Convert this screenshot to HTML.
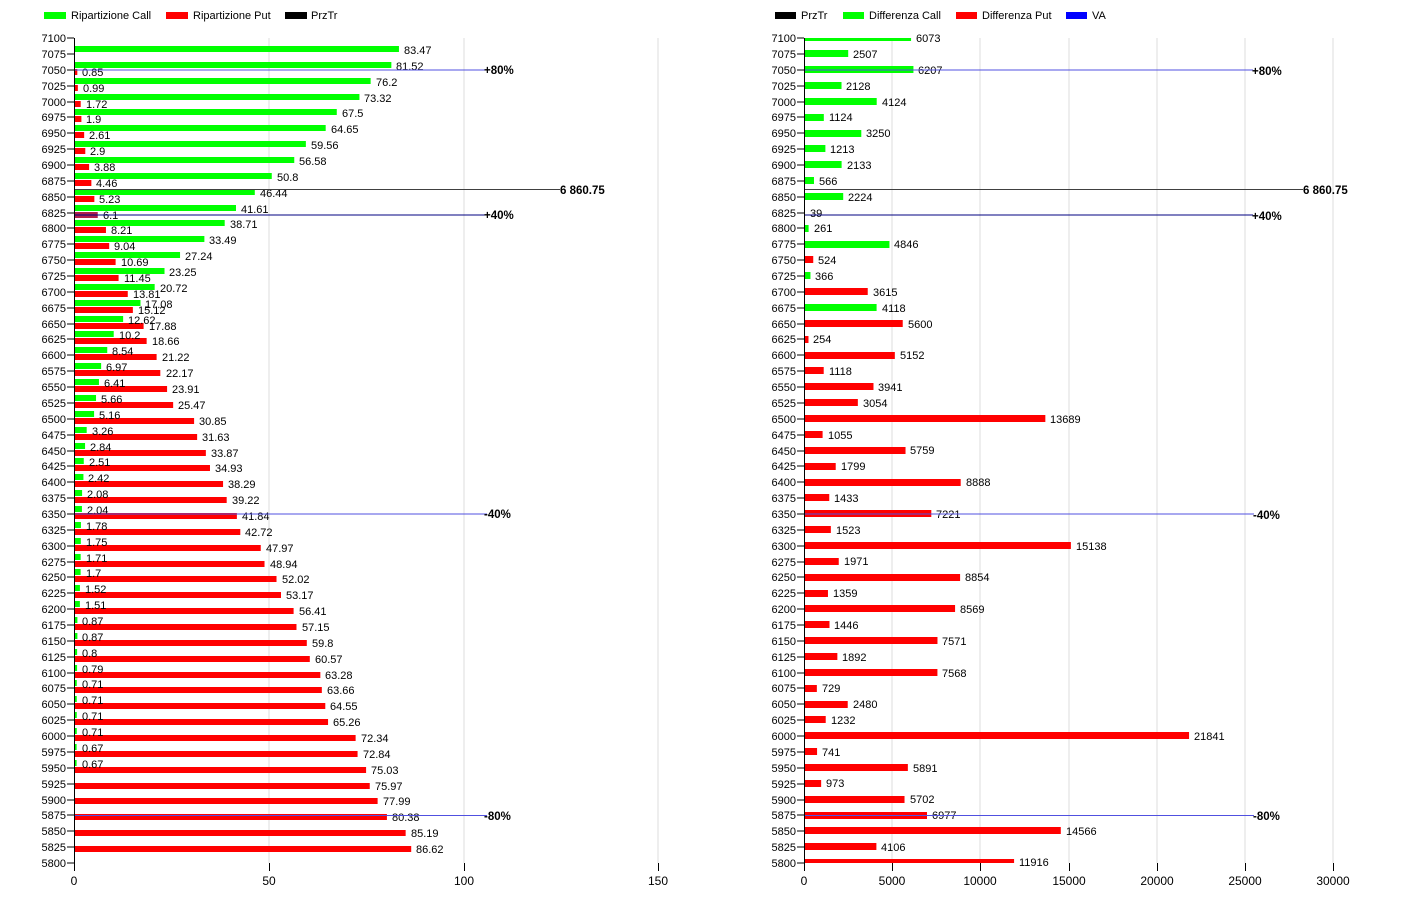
<!DOCTYPE html>
<html><head><meta charset="utf-8"><style>
html,body{margin:0;padding:0;background:#fff;}
svg{display:block;font-family:"Liberation Sans",Arial,sans-serif;font-size:11px;}
.ax text{text-anchor:end}
.b{font-weight:bold;font-size:11.5px}
</style></head><body>
<svg width="1419" height="909" xmlns="http://www.w3.org/2000/svg">
<!-- legends -->
<rect x="44" y="12" width="22" height="7" fill="#00ff00"/><text x="71" y="19">Ripartizione Call</text>
<rect x="166" y="12" width="22" height="7" fill="#ff0000"/><text x="193" y="19">Ripartizione Put</text>
<rect x="285" y="12" width="22" height="7" fill="#000"/><text x="311" y="19">PrzTr</text>
<rect x="775" y="12" width="21" height="7" fill="#000"/><text x="801" y="19">PrzTr</text>
<rect x="843" y="12" width="21" height="7" fill="#00ff00"/><text x="869" y="19">Differenza Call</text>
<rect x="956" y="12" width="21" height="7" fill="#ff0000"/><text x="982" y="19">Differenza Put</text>
<rect x="1066" y="12" width="21" height="7" fill="#0000ff"/><text x="1092" y="19">VA</text>

<!-- grids -->
<g stroke="#dcdcdc" stroke-width="1">
<line x1="269" y1="38" x2="269" y2="863"/><line x1="464" y1="38" x2="464" y2="863"/><line x1="658" y1="38" x2="658" y2="863"/>
<line x1="892" y1="38" x2="892" y2="863"/><line x1="980" y1="38" x2="980" y2="863"/><line x1="1069" y1="38" x2="1069" y2="863"/><line x1="1157" y1="38" x2="1157" y2="863"/><line x1="1245" y1="38" x2="1245" y2="863"/><line x1="1333" y1="38" x2="1333" y2="863"/>
</g>

<!-- LEFT: call bars (green) at label-8, put (red) at label-1 -->
<g transform="translate(74,0) scale(3.893,1)">
<g fill="#00ff00">
<rect y="46" width="83.47" height="6"/><rect y="62" width="81.52" height="6"/><rect y="78" width="76.2" height="6"/><rect y="94" width="73.32" height="6"/><rect y="109" width="67.5" height="6"/><rect y="125" width="64.65" height="6"/><rect y="141" width="59.56" height="6"/><rect y="157" width="56.58" height="6"/><rect y="173" width="50.8" height="6"/><rect y="189" width="46.44" height="6"/><rect y="205" width="41.61" height="6"/><rect y="220" width="38.71" height="6"/><rect y="236" width="33.49" height="6"/><rect y="252" width="27.24" height="6"/><rect y="268" width="23.25" height="6"/><rect y="284" width="20.72" height="6"/><rect y="300" width="17.08" height="6"/><rect y="316" width="12.62" height="6"/><rect y="331" width="10.2" height="6"/><rect y="347" width="8.54" height="6"/><rect y="363" width="6.97" height="6"/><rect y="379" width="6.41" height="6"/><rect y="395" width="5.66" height="6"/><rect y="411" width="5.16" height="6"/><rect y="427" width="3.26" height="6"/><rect y="443" width="2.84" height="6"/><rect y="458" width="2.51" height="6"/><rect y="474" width="2.42" height="6"/><rect y="490" width="2.08" height="6"/><rect y="506" width="2.04" height="6"/><rect y="522" width="1.78" height="6"/><rect y="538" width="1.75" height="6"/><rect y="554" width="1.71" height="6"/><rect y="569" width="1.7" height="6"/><rect y="585" width="1.52" height="6"/><rect y="601" width="1.51" height="6"/><rect y="617" width="0.87" height="6"/><rect y="633" width="0.87" height="6"/><rect y="649" width="0.8" height="6"/><rect y="665" width="0.79" height="6"/><rect y="680" width="0.71" height="6"/><rect y="696" width="0.71" height="6"/><rect y="712" width="0.71" height="6"/><rect y="728" width="0.71" height="6"/><rect y="744" width="0.67" height="6"/><rect y="760" width="0.67" height="6"/>
</g>
<g fill="#ff0000">
<rect y="69" width="0.85" height="6"/><rect y="85" width="0.99" height="6"/><rect y="101" width="1.72" height="6"/><rect y="116" width="1.9" height="6"/><rect y="132" width="2.61" height="6"/><rect y="148" width="2.9" height="6"/><rect y="164" width="3.88" height="6"/><rect y="180" width="4.46" height="6"/><rect y="196" width="5.23" height="6"/><rect y="212" width="6.1" height="6" fill="#b0204a"/><rect y="227" width="8.21" height="6"/><rect y="243" width="9.04" height="6"/><rect y="259" width="10.69" height="6"/><rect y="275" width="11.45" height="6"/><rect y="291" width="13.81" height="6"/><rect y="307" width="15.12" height="6"/><rect y="323" width="17.88" height="6"/><rect y="338" width="18.66" height="6"/><rect y="354" width="21.22" height="6"/><rect y="370" width="22.17" height="6"/><rect y="386" width="23.91" height="6"/><rect y="402" width="25.47" height="6"/><rect y="418" width="30.85" height="6"/><rect y="434" width="31.63" height="6"/><rect y="450" width="33.87" height="6"/><rect y="465" width="34.93" height="6"/><rect y="481" width="38.29" height="6"/><rect y="497" width="39.22" height="6"/><rect y="513" width="41.84" height="6"/><rect y="529" width="42.72" height="6"/><rect y="545" width="47.97" height="6"/><rect y="561" width="48.94" height="6"/><rect y="576" width="52.02" height="6"/><rect y="592" width="53.17" height="6"/><rect y="608" width="56.41" height="6"/><rect y="624" width="57.15" height="6"/><rect y="640" width="59.8" height="6"/><rect y="656" width="60.57" height="6"/><rect y="672" width="63.28" height="6"/><rect y="687" width="63.66" height="6"/><rect y="703" width="64.55" height="6"/><rect y="719" width="65.26" height="6"/><rect y="735" width="72.34" height="6"/><rect y="751" width="72.84" height="6"/><rect y="767" width="75.03" height="6"/><rect y="783" width="75.97" height="6"/><rect y="798" width="77.99" height="6"/><rect y="814" width="80.38" height="6"/><rect y="830" width="85.19" height="6"/><rect y="846" width="86.62" height="6"/>
</g>
</g>
<!-- left value labels -->
<g fill="#000">
<text x="404" y="54">83.47</text><text x="396" y="70">81.52</text><text x="376" y="86">76.2</text><text x="364" y="102">73.32</text><text x="342" y="117">67.5</text><text x="331" y="133">64.65</text><text x="311" y="149">59.56</text><text x="299" y="165">56.58</text><text x="277" y="181">50.8</text><text x="260" y="197">46.44</text><text x="241" y="213">41.61</text><text x="230" y="228">38.71</text><text x="209" y="244">33.49</text><text x="185" y="260">27.24</text><text x="169" y="276">23.25</text><text x="160" y="292">20.72</text><text x="145" y="308">17.08</text><text x="128" y="324">12.62</text><text x="119" y="339">10.2</text><text x="112" y="355">8.54</text><text x="106" y="371">6.97</text><text x="104" y="387">6.41</text><text x="101" y="403">5.66</text><text x="99" y="419">5.16</text><text x="92" y="435">3.26</text><text x="90" y="451">2.84</text><text x="89" y="466">2.51</text><text x="88" y="482">2.42</text><text x="87" y="498">2.08</text><text x="87" y="514">2.04</text><text x="86" y="530">1.78</text><text x="86" y="546">1.75</text><text x="86" y="562">1.71</text><text x="86" y="577">1.7</text><text x="85" y="593">1.52</text><text x="85" y="609">1.51</text><text x="82" y="625">0.87</text><text x="82" y="641">0.87</text><text x="82" y="657">0.8</text><text x="82" y="673">0.79</text><text x="82" y="688">0.71</text><text x="82" y="704">0.71</text><text x="82" y="720">0.71</text><text x="82" y="736">0.71</text><text x="82" y="752">0.67</text><text x="82" y="768">0.67</text>
<text x="82" y="76">0.85</text><text x="83" y="92">0.99</text><text x="86" y="108">1.72</text><text x="86" y="123">1.9</text><text x="89" y="139">2.61</text><text x="90" y="155">2.9</text><text x="94" y="171">3.88</text><text x="96" y="187">4.46</text><text x="99" y="203">5.23</text><text x="103" y="219">6.1</text><text x="111" y="234">8.21</text><text x="114" y="250">9.04</text><text x="121" y="266">10.69</text><text x="124" y="282">11.45</text><text x="133" y="298">13.81</text><text x="138" y="314">15.12</text><text x="149" y="330">17.88</text><text x="152" y="345">18.66</text><text x="162" y="361">21.22</text><text x="166" y="377">22.17</text><text x="172" y="393">23.91</text><text x="178" y="409">25.47</text><text x="199" y="425">30.85</text><text x="202" y="441">31.63</text><text x="211" y="457">33.87</text><text x="215" y="472">34.93</text><text x="228" y="488">38.29</text><text x="232" y="504">39.22</text><text x="242" y="520">41.84</text><text x="245" y="536">42.72</text><text x="266" y="552">47.97</text><text x="270" y="568">48.94</text><text x="282" y="583">52.02</text><text x="286" y="599">53.17</text><text x="299" y="615">56.41</text><text x="302" y="631">57.15</text><text x="312" y="647">59.8</text><text x="315" y="663">60.57</text><text x="325" y="679">63.28</text><text x="327" y="694">63.66</text><text x="330" y="710">64.55</text><text x="333" y="726">65.26</text><text x="361" y="742">72.34</text><text x="363" y="758">72.84</text><text x="371" y="774">75.03</text><text x="375" y="790">75.97</text><text x="383" y="805">77.99</text><text x="392" y="821">80.38</text><text x="411" y="837">85.19</text><text x="416" y="853">86.62</text>
</g>

<!-- RIGHT bars -->
<g transform="translate(804,0) scale(0.01763,1)">
<g fill="#00ff00">
<rect y="38" width="6073" height="3"/><rect y="50" width="2507" height="7"/><rect y="66" width="6207" height="7"/><rect y="82" width="2128" height="7"/><rect y="98" width="4124" height="7"/><rect y="114" width="1124" height="7"/><rect y="130" width="3250" height="7"/><rect y="145" width="1213" height="7"/><rect y="161" width="2133" height="7"/><rect y="177" width="566" height="7"/><rect y="193" width="2224" height="7"/><rect y="209" width="39" height="7"/><rect y="225" width="261" height="7"/><rect y="241" width="4846" height="7"/><rect y="272" width="366" height="7"/><rect y="304" width="4118" height="7"/>
</g>
<g fill="#ff0000">
<rect y="256" width="524" height="7"/><rect y="288" width="3615" height="7"/><rect y="320" width="5600" height="7"/><rect y="336" width="254" height="7"/><rect y="352" width="5152" height="7"/><rect y="367" width="1118" height="7"/><rect y="383" width="3941" height="7"/><rect y="399" width="3054" height="7"/><rect y="415" width="13689" height="7"/><rect y="431" width="1055" height="7"/><rect y="447" width="5759" height="7"/><rect y="463" width="1799" height="7"/><rect y="479" width="8888" height="7"/><rect y="494" width="1433" height="7"/><rect y="510" width="7221" height="7"/><rect y="526" width="1523" height="7"/><rect y="542" width="15138" height="7"/><rect y="558" width="1971" height="7"/><rect y="574" width="8854" height="7"/><rect y="590" width="1359" height="7"/><rect y="605" width="8569" height="7"/><rect y="621" width="1446" height="7"/><rect y="637" width="7571" height="7"/><rect y="653" width="1892" height="7"/><rect y="669" width="7568" height="7"/><rect y="685" width="729" height="7"/><rect y="701" width="2480" height="7"/><rect y="716" width="1232" height="7"/><rect y="732" width="21841" height="7"/><rect y="748" width="741" height="7"/><rect y="764" width="5891" height="7"/><rect y="780" width="973" height="7"/><rect y="796" width="5702" height="7"/><rect y="812" width="6977" height="7"/><rect y="827" width="14566" height="7"/><rect y="843" width="4106" height="7"/><rect y="859" width="11916" height="4"/>
</g>
</g>
<g fill="#000">
<text x="916" y="42">6073</text><text x="853" y="58">2507</text><text x="918" y="74">6207</text><text x="846" y="90">2128</text><text x="882" y="106">4124</text><text x="829" y="121">1124</text><text x="866" y="137">3250</text><text x="830" y="153">1213</text><text x="847" y="169">2133</text><text x="819" y="185">566</text><text x="848" y="201">2224</text><text x="810" y="217">39</text><text x="814" y="232">261</text><text x="894" y="248">4846</text><text x="818" y="264">524</text><text x="815" y="280">366</text><text x="873" y="296">3615</text><text x="882" y="312">4118</text><text x="908" y="328">5600</text><text x="813" y="343">254</text><text x="900" y="359">5152</text><text x="829" y="375">1118</text><text x="878" y="391">3941</text><text x="863" y="407">3054</text><text x="1050" y="423">13689</text><text x="828" y="439">1055</text><text x="910" y="454">5759</text><text x="841" y="470">1799</text><text x="966" y="486">8888</text><text x="834" y="502">1433</text><text x="936" y="518">7221</text><text x="836" y="534">1523</text><text x="1076" y="550">15138</text><text x="844" y="565">1971</text><text x="965" y="581">8854</text><text x="833" y="597">1359</text><text x="960" y="613">8569</text><text x="834" y="629">1446</text><text x="942" y="645">7571</text><text x="842" y="661">1892</text><text x="942" y="677">7568</text><text x="822" y="692">729</text><text x="853" y="708">2480</text><text x="831" y="724">1232</text><text x="1194" y="740">21841</text><text x="822" y="756">741</text><text x="913" y="772">5891</text><text x="826" y="787">973</text><text x="910" y="803">5702</text><text x="932" y="819">6977</text><text x="1066" y="835">14566</text><text x="881" y="851">4106</text><text x="1019" y="866">11916</text>
</g>

<!-- reference lines -->
<g stroke-width="1">
<line x1="74" y1="70" x2="485" y2="70" stroke="#5050e0"/>
<line x1="74" y1="189.5" x2="560" y2="189.5" stroke="#404040"/>
<line x1="74" y1="215" x2="485" y2="215" stroke="#000080"/>
<line x1="74" y1="514" x2="487" y2="514" stroke="#5050e0"/>
<line x1="74" y1="815.5" x2="487" y2="815.5" stroke="#5050e0"/>
<line x1="804" y1="70" x2="1253" y2="70" stroke="#5050e0"/>
<line x1="804" y1="189.5" x2="1303" y2="189.5" stroke="#404040"/>
<line x1="804" y1="215" x2="1253" y2="215" stroke="#000080"/>
<line x1="804" y1="514" x2="1254" y2="514" stroke="#5050e0"/>
<line x1="804" y1="815.5" x2="1254" y2="815.5" stroke="#5050e0"/>
</g>
<g class="b">
<text x="484" y="74">+80%</text><text x="560" y="194">6 860.75</text><text x="484" y="219">+40%</text><text x="484" y="518">-40%</text><text x="484" y="820">-80%</text>
<text x="1252" y="75">+80%</text><text x="1303" y="194">6 860.75</text><text x="1252" y="220">+40%</text><text x="1253" y="519">-40%</text><text x="1253" y="820">-80%</text>
</g>

<!-- axes -->
<g stroke="#000" stroke-width="1">
<line x1="74.5" y1="38" x2="74.5" y2="871"/>
<line x1="269.5" y1="863" x2="269.5" y2="871"/><line x1="464.5" y1="863" x2="464.5" y2="871"/><line x1="658.5" y1="863" x2="658.5" y2="871"/>
<line x1="804.5" y1="38" x2="804.5" y2="871"/>
<line x1="892.5" y1="863" x2="892.5" y2="871"/><line x1="980.5" y1="863" x2="980.5" y2="871"/><line x1="1069.5" y1="863" x2="1069.5" y2="871"/><line x1="1157.5" y1="863" x2="1157.5" y2="871"/><line x1="1245.5" y1="863" x2="1245.5" y2="871"/><line x1="1333.5" y1="863" x2="1333.5" y2="871"/>
<path d="M67 38H74M67 54H74M67 70H74M67 86H74M67 102H74M67 117H74M67 133H74M67 149H74M67 165H74M67 181H74M67 197H74M67 213H74M67 228H74M67 244H74M67 260H74M67 276H74M67 292H74M67 308H74M67 324H74M67 339H74M67 355H74M67 371H74M67 387H74M67 403H74M67 419H74M67 435H74M67 451H74M67 466H74M67 482H74M67 498H74M67 514H74M67 530H74M67 546H74M67 562H74M67 577H74M67 593H74M67 609H74M67 625H74M67 641H74M67 657H74M67 673H74M67 688H74M67 704H74M67 720H74M67 736H74M67 752H74M67 768H74M67 784H74M67 800H74M67 815H74M67 831H74M67 847H74M67 863H74" fill="none"/>
<path d="M797 38H804M797 54H804M797 70H804M797 86H804M797 102H804M797 117H804M797 133H804M797 149H804M797 165H804M797 181H804M797 197H804M797 213H804M797 228H804M797 244H804M797 260H804M797 276H804M797 292H804M797 308H804M797 324H804M797 339H804M797 355H804M797 371H804M797 387H804M797 403H804M797 419H804M797 435H804M797 451H804M797 466H804M797 482H804M797 498H804M797 514H804M797 530H804M797 546H804M797 562H804M797 577H804M797 593H804M797 609H804M797 625H804M797 641H804M797 657H804M797 673H804M797 688H804M797 704H804M797 720H804M797 736H804M797 752H804M797 768H804M797 784H804M797 800H804M797 815H804M797 831H804M797 847H804M797 863H804" fill="none"/>
</g>
<g class="ax">
<text x="66" y="42">7100</text><text x="66" y="58">7075</text><text x="66" y="74">7050</text><text x="66" y="90">7025</text><text x="66" y="106">7000</text><text x="66" y="121">6975</text><text x="66" y="137">6950</text><text x="66" y="153">6925</text><text x="66" y="169">6900</text><text x="66" y="185">6875</text><text x="66" y="201">6850</text><text x="66" y="217">6825</text><text x="66" y="232">6800</text><text x="66" y="248">6775</text><text x="66" y="264">6750</text><text x="66" y="280">6725</text><text x="66" y="296">6700</text><text x="66" y="312">6675</text><text x="66" y="328">6650</text><text x="66" y="343">6625</text><text x="66" y="359">6600</text><text x="66" y="375">6575</text><text x="66" y="391">6550</text><text x="66" y="407">6525</text><text x="66" y="423">6500</text><text x="66" y="439">6475</text><text x="66" y="455">6450</text><text x="66" y="470">6425</text><text x="66" y="486">6400</text><text x="66" y="502">6375</text><text x="66" y="518">6350</text><text x="66" y="534">6325</text><text x="66" y="550">6300</text><text x="66" y="566">6275</text><text x="66" y="581">6250</text><text x="66" y="597">6225</text><text x="66" y="613">6200</text><text x="66" y="629">6175</text><text x="66" y="645">6150</text><text x="66" y="661">6125</text><text x="66" y="677">6100</text><text x="66" y="692">6075</text><text x="66" y="708">6050</text><text x="66" y="724">6025</text><text x="66" y="740">6000</text><text x="66" y="756">5975</text><text x="66" y="772">5950</text><text x="66" y="788">5925</text><text x="66" y="804">5900</text><text x="66" y="819">5875</text><text x="66" y="835">5850</text><text x="66" y="851">5825</text><text x="66" y="867">5800</text>
<text x="796" y="42">7100</text><text x="796" y="58">7075</text><text x="796" y="74">7050</text><text x="796" y="90">7025</text><text x="796" y="106">7000</text><text x="796" y="121">6975</text><text x="796" y="137">6950</text><text x="796" y="153">6925</text><text x="796" y="169">6900</text><text x="796" y="185">6875</text><text x="796" y="201">6850</text><text x="796" y="217">6825</text><text x="796" y="232">6800</text><text x="796" y="248">6775</text><text x="796" y="264">6750</text><text x="796" y="280">6725</text><text x="796" y="296">6700</text><text x="796" y="312">6675</text><text x="796" y="328">6650</text><text x="796" y="343">6625</text><text x="796" y="359">6600</text><text x="796" y="375">6575</text><text x="796" y="391">6550</text><text x="796" y="407">6525</text><text x="796" y="423">6500</text><text x="796" y="439">6475</text><text x="796" y="455">6450</text><text x="796" y="470">6425</text><text x="796" y="486">6400</text><text x="796" y="502">6375</text><text x="796" y="518">6350</text><text x="796" y="534">6325</text><text x="796" y="550">6300</text><text x="796" y="566">6275</text><text x="796" y="581">6250</text><text x="796" y="597">6225</text><text x="796" y="613">6200</text><text x="796" y="629">6175</text><text x="796" y="645">6150</text><text x="796" y="661">6125</text><text x="796" y="677">6100</text><text x="796" y="692">6075</text><text x="796" y="708">6050</text><text x="796" y="724">6025</text><text x="796" y="740">6000</text><text x="796" y="756">5975</text><text x="796" y="772">5950</text><text x="796" y="788">5925</text><text x="796" y="804">5900</text><text x="796" y="819">5875</text><text x="796" y="835">5850</text><text x="796" y="851">5825</text><text x="796" y="867">5800</text>
</g>
<g text-anchor="middle" font-size="12">
<text x="74" y="885">0</text><text x="269" y="885">50</text><text x="464" y="885">100</text><text x="658" y="885">150</text>
<text x="804" y="885">0</text><text x="892" y="885">5000</text><text x="980" y="885">10000</text><text x="1069" y="885">15000</text><text x="1157" y="885">20000</text><text x="1245" y="885">25000</text><text x="1333" y="885">30000</text>
</g>
</svg>
</body></html>
